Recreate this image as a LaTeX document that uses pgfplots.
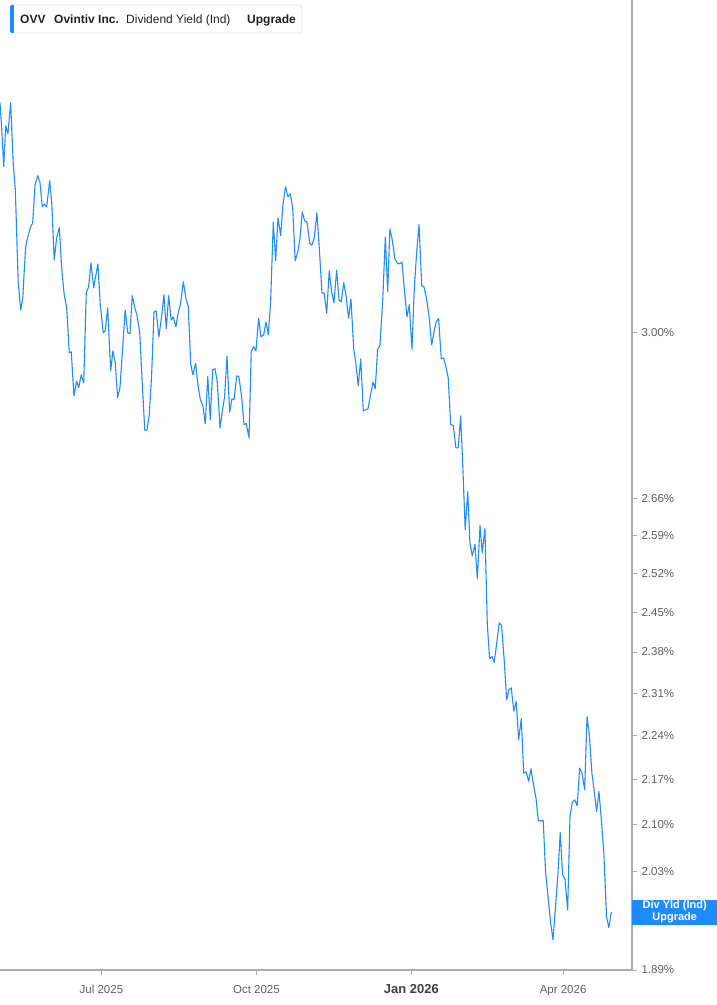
\documentclass[border=0pt]{standalone}
\usepackage{pgfplots}
\pgfplotsset{compat=1.18}
\usepackage{fontspec}
\setmainfont{Liberation Sans}
\definecolor{ovvblue}{RGB}{30,140,255}
\definecolor{axisgray}{RGB}{172,172,172}
\definecolor{labgray}{RGB}{95,95,95}
\definecolor{legtext}{RGB}{34,34,34}

% days since 1 Jan 2026, dividend yield in %
\pgfplotstableread{
d y
-244.2 3.545
-243.2 3.481
-242.0 3.384
-240.8 3.486
-239.5 3.466
-237.9 3.545
-236.3 3.389
-235.1 3.328
-233.4 3.113
-231.9 3.050
-230.7 3.077
-229.0 3.193
-227.4 3.221
-226.0 3.240
-224.8 3.249
-223.4 3.340
-221.8 3.362
-220.5 3.347
-219.1 3.287
-217.9 3.294
-216.5 3.287
-214.7 3.350
-213.5 3.297
-212.0 3.163
-210.6 3.214
-209.0 3.238
-207.6 3.145
-206.1 3.084
-204.6 3.055
-203.1 2.957
-201.9 2.959
-200.3 2.866
-198.7 2.897
-197.5 2.883
-196.0 2.910
-194.5 2.893
-193.0 3.088
-191.6 3.102
-190.2 3.156
-188.6 3.100
-186.1 3.154
-184.7 3.062
-182.9 3.000
-181.7 3.005
-180.3 3.055
-178.5 2.919
-177.2 2.961
-175.8 2.936
-174.4 2.862
-173.0 2.883
-169.9 3.050
-168.4 3.000
-167.1 2.998
-165.7 3.082
-164.3 3.057
-162.9 3.039
-161.3 3.002
-159.8 2.895
-158.3 2.796
-157.0 2.796
-155.6 2.827
-154.2 2.910
-152.8 3.046
-151.5 3.048
-149.9 2.991
-148.2 3.039
-146.9 3.084
-145.5 3.009
-144.1 3.082
-142.6 3.028
-141.4 3.035
-139.8 3.013
-138.6 3.041
-137.0 3.066
-135.4 3.113
-133.8 3.075
-132.5 3.059
-131.0 2.932
-129.7 2.910
-128.1 2.934
-126.7 2.889
-125.3 2.858
-123.9 2.848
-122.4 2.809
-120.9 2.906
-119.4 2.817
-118.0 2.921
-116.6 2.923
-115.3 2.897
-113.6 2.800
-112.3 2.833
-110.9 2.864
-109.5 2.950
-107.9 2.833
-106.5 2.860
-105.3 2.858
-103.7 2.908
-102.4 2.906
-100.8 2.864
-99.4 2.807
-98.0 2.809
-96.4 2.780
-95.1 2.959
-93.7 2.970
-92.3 2.961
-90.7 3.032
-89.3 2.991
-87.7 2.996
-86.3 3.024
-85.0 2.996
-83.6 3.066
-82.0 3.251
-80.6 3.161
-79.2 3.261
-77.6 3.219
-76.3 3.292
-74.7 3.335
-73.3 3.311
-71.9 3.318
-70.5 3.285
-69.0 3.161
-67.5 3.181
-66.2 3.211
-64.8 3.275
-63.4 3.254
-62.0 3.251
-60.4 3.202
-59.1 3.197
-57.7 3.214
-56.1 3.273
-54.7 3.190
-53.1 3.088
-51.8 3.088
-50.3 3.043
-48.8 3.138
-47.4 3.091
-46.0 3.066
-44.4 3.140
-43.0 3.073
-41.7 3.068
-40.2 3.111
-38.9 3.084
-37.3 3.032
-35.9 3.075
-34.3 2.967
-32.9 2.932
-31.6 2.887
-30.1 2.944
-28.6 2.835
-27.2 2.837
-25.8 2.839
-24.5 2.864
-22.8 2.895
-21.5 2.881
-20.1 2.963
-18.7 2.974
-17.1 3.068
-15.5 3.216
-14.1 3.091
-12.8 3.235
-11.4 3.209
-9.8 3.165
-8.4 3.156
-7.0 3.154
-5.6 3.158
-4.3 3.100
-2.7 3.035
-1.3 3.062
0.3 2.965
1.7 3.100
3.1 3.181
4.5 3.245
6.1 3.104
7.4 3.102
8.8 3.079
10.4 3.037
12.0 2.974
13.4 3.002
14.7 3.024
16.1 3.032
17.7 2.944
19.1 2.946
20.5 2.927
21.8 2.904
23.3 2.807
24.8 2.805
26.4 2.760
27.8 2.760
29.2 2.825
30.6 2.712
31.9 2.601
33.4 2.673
34.7 2.576
36.1 2.552
37.7 2.573
39.1 2.510
40.7 2.609
42.0 2.558
43.6 2.603
45.0 2.429
46.4 2.369
47.8 2.372
49.1 2.362
50.7 2.398
52.1 2.431
53.5 2.426
55.1 2.364
56.5 2.299
57.9 2.316
59.2 2.319
60.8 2.280
62.2 2.296
63.6 2.233
65.2 2.268
66.6 2.180
68.0 2.182
69.6 2.167
70.9 2.187
72.5 2.161
73.9 2.141
75.3 2.106
76.9 2.106
78.2 2.106
79.6 2.029
81.2 1.990
82.6 1.956
84.0 1.932
85.3 1.973
86.9 2.025
88.3 2.088
89.7 2.025
91.1 2.019
92.7 1.974
94.1 2.112
95.4 2.134
96.9 2.138
98.4 2.129
99.8 2.188
101.2 2.180
102.8 2.154
104.2 2.271
105.5 2.244
107.1 2.180
108.5 2.151
109.9 2.120
111.3 2.151
112.9 2.101
114.2 2.056
115.8 1.964
117.2 1.949
118.6 1.971
}\yielddata

\begin{document}
\begin{tikzpicture}[x=1bp,y=1bp]
\begin{axis}[
  scale only axis, width=632bp, height=970bp,
  at={(0,35bp)}, anchor=south west,
  xmin=-244.2, xmax=130.9,
  ymode=log, ymin=1.89, ymax=3.8195,
  axis x line*=bottom, axis y line*=right,
  axis line style={draw=axisgray, line width=2bp, -},
  tick align=outside,
  major tick length=5bp,
  tick style={draw=axisgray, line width=0.8bp},
  xtick={-184,-92,0,90},
  xticklabels={Jul 2025,Oct 2025,{\fontsize{13bp}{15bp}\selectfont\bfseries\color{black!75}Jan 2026},Apr 2026},
  xticklabel style={font=\fontsize{11.5bp}{13bp}\selectfont, text=labgray, anchor=base, yshift=-18.5bp, inner sep=0pt},
  % the 1.96% label sits under the last-value box, as in the original
  ytick={1.89,1.96,2.03,2.10,2.17,2.24,2.31,2.38,2.45,2.52,2.59,2.66,3.00},
  yticklabels={1.89\%,,2.03\%,2.10\%,2.17\%,2.24\%,2.31\%,2.38\%,2.45\%,2.52\%,2.59\%,2.66\%,3.00\%},
  yticklabel style={font=\fontsize{11.5bp}{13bp}\selectfont, text=labgray, anchor=west, xshift=1bp},
  minor ytick={},
  clip=false,
]
\addplot[ovvblue, line width=1.1bp, line join=round] table[x=d, y=y] {\yielddata};
\node[anchor=west, fill=ovvblue, text=white, inner sep=0pt, minimum width=85bp, minimum height=25bp,
      align=center, font=\fontsize{11bp}{12bp}\selectfont\bfseries]
  at (axis cs:130.9,1.971) {Div Yld (Ind)\\Upgrade};
\end{axis}
% legend header
\draw[draw=black!10, fill=white, rounded corners=3bp, line width=0.8bp] (10,972) rectangle (302,1000);
\fill[ovvblue, rounded corners=1.5bp] (10,972) rectangle (13.5,1000);
\fill[ovvblue] (12,972) rectangle (13.5,1000);
\begin{scope}[every node/.style={anchor=base west, inner sep=0pt, text=legtext, font=\fontsize{12bp}{14bp}\selectfont}]
\node at (20,981) {\bfseries OVV};
\node at (54,981) {\bfseries Ovintiv Inc.};
\node at (126,981) {Dividend Yield (Ind)};
\node at (247,981) {\bfseries Upgrade};
\end{scope}
\pgfresetboundingbox
\path[use as bounding box] (0,0) rectangle (717,1005);
\end{tikzpicture}
\end{document}
